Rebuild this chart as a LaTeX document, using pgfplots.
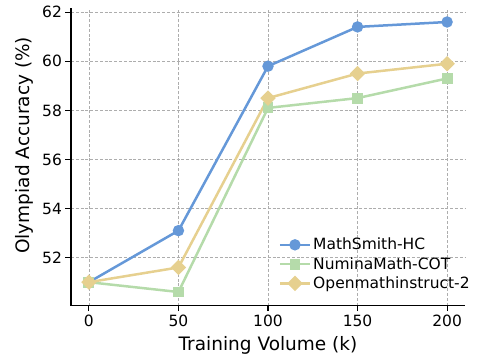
\documentclass[border=0pt]{standalone}
\usepackage{fontspec}
\setmainfont{DejaVu Sans}
\usepackage{pgfplots}
\pgfplotsset{compat=1.18}
\definecolor{cblue}{HTML}{6598D8}
\definecolor{cgreen}{HTML}{B5DBAA}
\definecolor{cyellow}{HTML}{E6D08F}
\begin{document}
\begin{tikzpicture}
\useasboundingbox (-71pt,-50.5pt) rectangle (411pt,305.5pt);
\begin{axis}[
  at={(0,0)}, anchor=south west,
  width=394pt, height=297pt, scale only axis,
  xmin=-10, xmax=210, ymin=50.05, ymax=62.15,
  xtick={0,50,100,150,200},
  ytick={52,54,56,58,60,62},
  axis lines*=left,
  axis line style={line width=1.2pt},
  tick align=outside,
  major tick length=5.5pt,
  tick style={black, line width=1.1pt},
  grid=major,
  grid style={dash pattern=on 3pt off 1.8pt, black!32, line width=0.8pt},
  /pgf/number format/assume math mode=true,
  ticklabel style={font=\fontsize{15.5}{18}\selectfont},
  xlabel={Training Volume (k)},
  ylabel={Olympiad Accuracy (\%)},
  label style={font=\fontsize{18.5}{22}\selectfont},
  xlabel style={at={(axis description cs:0.5,-0.1515)}, anchor=base},
  ylabel style={at={(axis description cs:-0.1193,0.539)}, anchor=center},
  legend style={draw=none, fill=none, at={(1.025,0.038)}, anchor=south east,
    font=\fontsize{15.5}{18}\selectfont, row sep=2pt},
  legend cell align=left,
  legend image code/.code={\draw[mark repeat=2, mark phase=2] plot coordinates {(-2pt,0pt) (13pt,0pt) (28pt,0pt)};},
  every axis plot/.append style={line width=2.5pt},
]
\addplot[cblue, mark=*, mark size=4.4pt] coordinates {(0,51.0) (50,53.1) (100,59.8) (150,61.4) (200,61.6)};
\addlegendentry{MathSmith-HC}
\addplot[cgreen, mark=square*, mark size=4.2pt] coordinates {(0,51.0) (50,50.6) (100,58.1) (150,58.5) (200,59.3)};
\addlegendentry{NuminaMath-COT}
\addplot[cyellow, mark=square*, mark size=4.2pt, mark options={rotate=45}] coordinates {(0,51.0) (50,51.6) (100,58.5) (150,59.5) (200,59.9)};
\addlegendentry{Openmathinstruct-2}
\end{axis}
\end{tikzpicture}
\end{document}
